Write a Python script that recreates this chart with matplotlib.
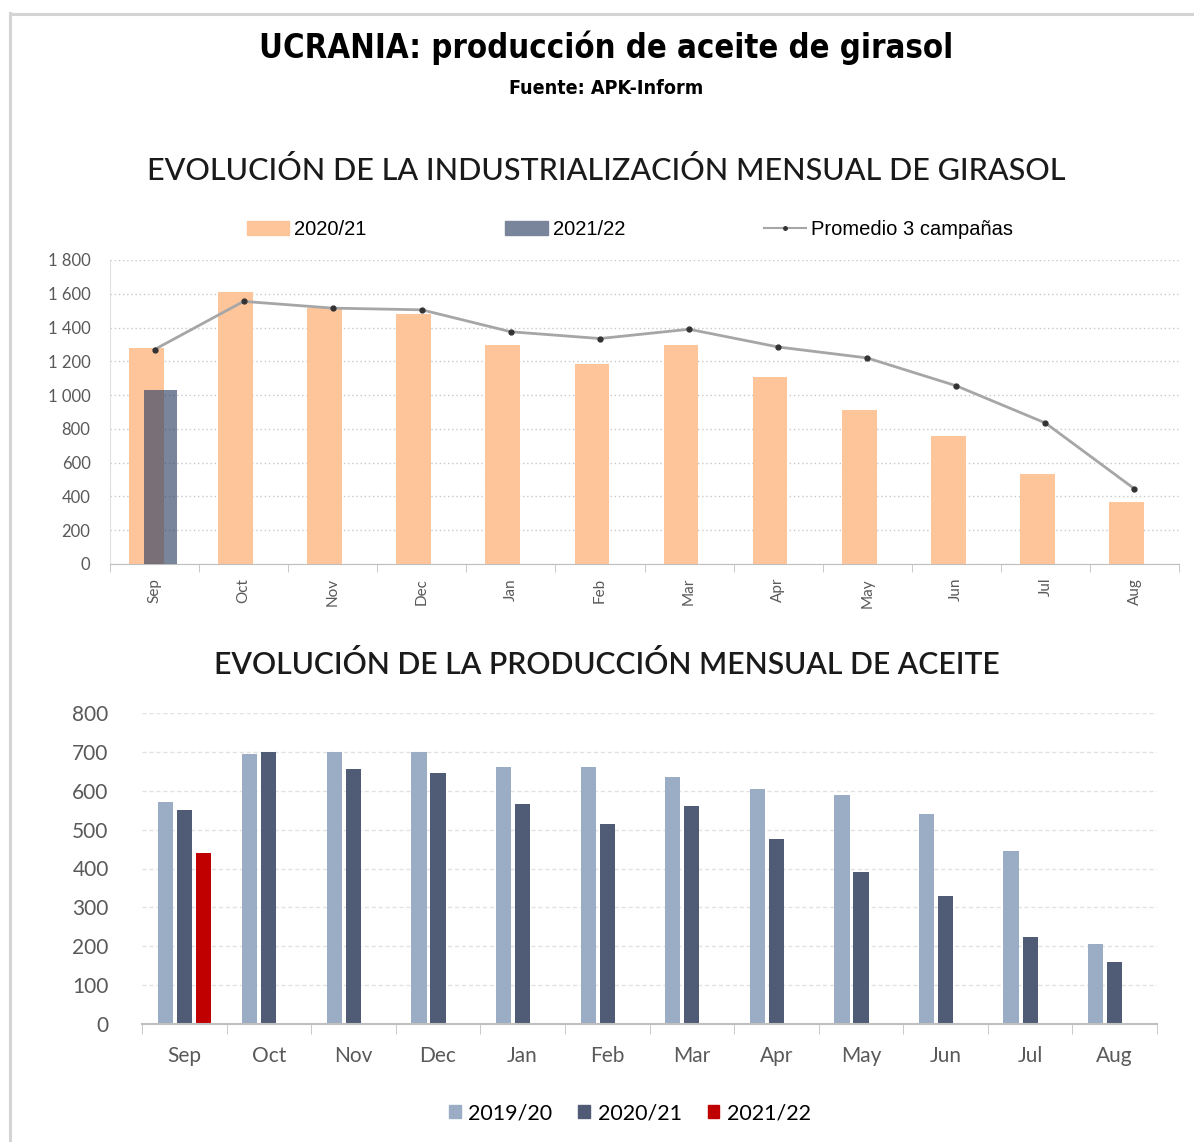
import numpy as np
import matplotlib
matplotlib.use("Agg")
import matplotlib.pyplot as plt
from matplotlib.lines import Line2D
from matplotlib.patches import Patch
from matplotlib.ticker import FuncFormatter, FixedLocator
from matplotlib import font_manager

# Data
months = ["Sep", "Oct", "Nov", "Dec", "Jan", "Feb", "Mar", "Apr", "May", "Jun", "Jul", "Aug"]

# Industrializacion mensual de girasol (miles t)
crush_2020 = [1280, 1610, 1515, 1480, 1295, 1185, 1295, 1110, 910, 760, 530, 365]
crush_2021 = [1030]
crush_avg = [1270, 1555, 1515, 1505, 1375, 1335, 1390, 1285, 1220, 1055, 835, 445]

# Produccion mensual de aceite (miles t)
oil_2019 = [570, 695, 700, 700, 660, 660, 635, 605, 590, 540, 445, 205]
oil_2020 = [550, 700, 655, 645, 565, 515, 560, 475, 390, 330, 225, 160]
oil_2021 = [440]

W, H = 1194, 1142
fig = plt.figure(figsize=(W / 100, H / 100), dpi=100)

# look for a condensed bold face for the headline
narrow = [f.name for f in font_manager.fontManager.ttflist
          if ("Narrow" in f.name or "Condensed" in f.name or f.stretch in ("condensed", "semi-condensed"))]
title_font = (narrow[:1] if narrow else []) + ["DejaVu Sans"]
body_font = ["Lato", "DejaVu Sans"]
grey_txt = "#595959"

def fx(px):
    return px / W

def fy(py):
    return 1 - py / H

# border lines (left and top)
fig.add_artist(Line2D([fx(10), fx(10)], [0, fy(13)], color="#d4d4d4", lw=2.2))
fig.add_artist(Line2D([fx(10), 1], [fy(14), fy(14)], color="#d4d4d4", lw=2.2))

t1 = fig.text(0.508, fy(48), "UCRANIA: producción de aceite de girasol", ha="center", va="center",
              fontsize=31, fontweight="bold", family=title_font, stretch="condensed", color="black")
t2 = fig.text(0.508, fy(88), "Fuente: APK-Inform", ha="center", va="center",
              fontsize=17, fontweight="bold", family=title_font, stretch="condensed", color="black")

# shrink headline to the reference width if no narrow face was found
fig.canvas.draw()
r = fig.canvas.get_renderer()
w1 = t1.get_window_extent(r).width
if w1 > 700:
    t1.set_fontsize(31 * 693 / w1)
w2 = t2.get_window_extent(r).width
if w2 > 200:
    t2.set_fontsize(17 * 194 / w2)

fig.text(0.508, fy(170), "EVOLUCIÓN DE LA INDUSTRIALIZACIÓN MENSUAL DE GIRASOL", ha="center", va="center",
         fontsize=22, fontweight="medium", family=body_font, color="#1a1a1a")
fig.text(0.508, fy(665), "EVOLUCIÓN DE LA PRODUCCIÓN MENSUAL DE ACEITE", ha="center", va="center",
         fontsize=21.6, fontweight="semibold", family=body_font, color="#1a1a1a")

x = np.arange(len(months))

# ---- top chart ----
ax1 = fig.add_axes([fx(110), fy(564), fx(1179) - fx(110), fy(260) - fy(564)])
ax1.bar(x - 0.09, crush_2020, width=0.39, color="#FFC59A", zorder=2)
ax1.bar(x[:len(crush_2021)] + 0.07, crush_2021, width=0.37, color="#2C4062", alpha=0.64, zorder=3)
ax1.plot(x, crush_avg, color="#a6a6a6", lw=2, marker="o", markersize=3.5,
         markerfacecolor="#333333", markeredgecolor="#333333", zorder=4)
ax1.set_xlim(-0.5, 11.5)
ax1.set_ylim(0, 1800)
ax1.set_yticks(np.arange(0, 1801, 200))
ax1.yaxis.set_major_formatter(FuncFormatter(lambda v, p: f"{int(v):,}".replace(",", " ")))
ax1.set_xticks(x)
ax1.set_xticklabels(months, rotation=90, family=body_font, fontsize=11, color=grey_txt)
ax1.xaxis.set_minor_locator(FixedLocator(np.arange(-0.5, 12, 1)))
ax1.tick_params(axis="x", which="major", length=0, pad=10)
ax1.tick_params(axis="x", which="minor", length=6, color="#bfbfbf", direction="out")
ax1.tick_params(axis="y", length=0, pad=14, labelsize=12, labelcolor=grey_txt)
for lab in ax1.get_yticklabels():
    lab.set_family(body_font)
ax1.grid(axis="y", color="#c8c8c8", linestyle=(0, (1, 2)), lw=1, zorder=0)
for s in ["top", "right"]:
    ax1.spines[s].set_visible(False)
ax1.spines["left"].set_color("#e0e0e0")
ax1.spines["bottom"].set_color("#bfbfbf")

h1 = [Patch(color="#FFC59A"), Patch(color="#78859B"),
      Line2D([], [], color="#a6a6a6", lw=1.5, marker="o", markersize=2.5,
             markerfacecolor="#333333", markeredgecolor="#333333")]
fig.legend(h1, ["2020/21", "2021/22", "Promedio 3 campañas"], loc="center",
           bbox_to_anchor=(fx(630), fy(230)), ncol=3, frameon=False,
           prop={"family": ["Liberation Sans", "DejaVu Sans"], "size": 14.5},
           handlelength=2.1, handleheight=0.7, handletextpad=0.25, columnspacing=6.9)

# ---- bottom chart ----
ax2 = fig.add_axes([fx(142), fy(1024), fx(1157) - fx(142), fy(713) - fy(1024)])
step = 0.225
bw = 0.18
ax2.bar(x - step, oil_2019, width=bw, color="#9BACC5", zorder=2)
ax2.bar(x, oil_2020, width=bw, color="#505C76", zorder=2)
ax2.bar(x[:len(oil_2021)] + step, oil_2021, width=bw, color="#C00000", zorder=2)
ax2.set_xlim(-0.5, 11.5)
ax2.set_ylim(0, 800)
ax2.set_yticks(np.arange(0, 801, 100))
ax2.set_xticks(x)
ax2.set_xticklabels(months, family=body_font, fontsize=15, color=grey_txt)
ax2.xaxis.set_minor_locator(FixedLocator(np.arange(-0.5, 12, 1)))
ax2.tick_params(axis="x", which="major", length=0, pad=16)
ax2.tick_params(axis="x", which="minor", length=7, color="#bfbfbf", direction="out")
ax2.tick_params(axis="y", length=0, pad=24, labelsize=15, labelcolor=grey_txt)
for lab in ax2.get_yticklabels():
    lab.set_family(body_font)
ax2.grid(axis="y", color="#e2e2e2", linestyle=(0, (3, 2)), lw=1, zorder=0)
for s in ["top", "right", "left"]:
    ax2.spines[s].set_visible(False)
ax2.spines["bottom"].set_color("#bfbfbf")
ax2.spines["bottom"].set_linewidth(1.5)

h2 = [Patch(color="#9BACC5"), Patch(color="#505C76"), Patch(color="#C00000")]
fig.legend(h2, ["2019/20", "2020/21", "2021/22"], loc="center",
           bbox_to_anchor=(fx(630), fy(1113)), ncol=3, frameon=False,
           prop={"family": body_font, "size": 15.5},
           handlelength=0.55, handleheight=0.55, handletextpad=0.35, columnspacing=1.2)

fig.savefig("out.png", dpi=100, facecolor="white")
